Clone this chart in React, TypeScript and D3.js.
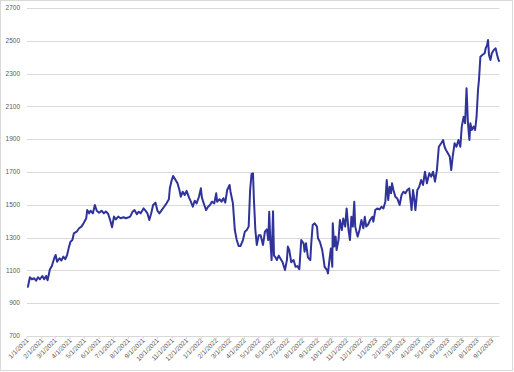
import React from "react";
import * as d3 from "d3";

// days since 1/1/2021 and the series value
const days: number[] = [
  0, 2, 6, 10, 15, 19, 23, 27, 32, 36, 40, 43, 45, 48, 52, 57, 60, 63, 68, 72, 76, 80, 84, 88, 91, 95, 98,
  104, 109, 114, 119, 124, 126, 130, 133, 138, 142, 146, 151, 156, 161, 165, 170, 174, 178, 182, 186, 191,
  196, 202, 207, 213, 216, 221, 225, 230, 234, 238, 244, 248, 252, 256, 260, 264, 269, 273, 277, 282, 287,
  292, 297, 299, 303, 306, 311, 315, 319, 322, 326, 330, 334, 339, 343, 347, 351, 355, 360, 364, 366, 371,
  375, 379, 383, 387, 392, 396, 398, 403, 407, 411, 415, 419, 424, 426, 431, 435, 439, 443, 447, 452, 456,
  460, 464, 467, 470, 473, 475, 478, 481, 485, 489, 494, 498, 502, 505, 507, 509, 512, 515, 517, 520, 523,
  527, 531, 535, 540, 544, 546, 549, 553, 558, 562, 566, 570, 574, 579, 581, 584, 588, 593, 595, 598, 602,
  607, 609, 613, 618, 620, 623, 628, 630, 633, 636, 639, 640, 643, 646, 648, 652, 655, 659, 662, 666, 669,
  673, 676, 679, 682, 685, 687, 692, 696, 700, 704, 707, 710, 714, 718, 723, 725, 729, 733, 738, 742, 746,
  750, 753, 756, 759, 762, 764, 767, 771, 775, 780, 784, 788, 792, 796, 800, 805, 808, 810, 813, 817, 821,
  825, 829, 833, 837, 842, 846, 850, 854, 858, 862, 867, 871, 874, 877, 881, 885, 888, 891, 895, 899, 903,
  907, 910, 914, 917, 920, 923, 926, 928, 931, 935, 938, 941, 944, 946, 949, 953, 958, 960, 963, 965, 967,
  970, 973, 977, 981, 984, 987, 989,
];
const values: number[] = [
  1001, 1000, 1058, 1046, 1052, 1037, 1058, 1046, 1066, 1046, 1066, 1040, 1066, 1107, 1127, 1174, 1194, 1153,
  1174, 1160, 1184, 1168, 1194, 1245, 1275, 1285, 1326, 1336, 1357, 1367, 1391, 1418, 1468, 1448, 1464, 1448,
  1499, 1464, 1452, 1464, 1448, 1460, 1444, 1407, 1363, 1428, 1411, 1428, 1418, 1424, 1418, 1424, 1428, 1458,
  1468, 1443, 1458, 1448, 1478, 1464, 1448, 1407, 1448, 1499, 1513, 1464, 1448, 1468, 1488, 1509, 1534, 1601,
  1651, 1676, 1651, 1631, 1590, 1549, 1580, 1560, 1585, 1545, 1519, 1488, 1525, 1509, 1549, 1601, 1545, 1499,
  1468, 1488, 1499, 1519, 1509, 1570, 1519, 1534, 1519, 1540, 1513, 1590, 1621, 1580, 1509, 1346, 1285, 1249,
  1249, 1285, 1336, 1346, 1367, 1590, 1688, 1692, 1529, 1346, 1255, 1315, 1315, 1255, 1336, 1350, 1285, 1458,
  1300, 1163, 1460, 1190, 1180, 1163, 1190, 1170, 1150, 1102, 1163, 1245, 1224, 1150, 1163, 1122, 1126, 1107,
  1285, 1265, 1214, 1265, 1180, 1163, 1265, 1377, 1387, 1367, 1296, 1275, 1224, 1184, 1122, 1102, 1082, 1163,
  1234, 1122, 1387, 1245, 1306, 1224, 1285, 1407, 1346, 1417, 1367, 1478, 1346, 1285, 1427, 1367, 1519, 1367,
  1306, 1346, 1407, 1357, 1427, 1367, 1380, 1407, 1427, 1397, 1468, 1478, 1472, 1488, 1478, 1519, 1651, 1529,
  1610, 1570, 1631, 1590, 1549, 1539, 1499, 1560, 1580, 1570, 1590, 1600, 1468, 1590, 1549, 1468, 1590, 1610,
  1651, 1621, 1702, 1631, 1692, 1672, 1702, 1641, 1712, 1854, 1875, 1895, 1854, 1834, 1814, 1793, 1712, 1793,
  1875, 1854, 1895, 1854, 1977, 2037, 1997, 2210, 1997, 1895, 1997, 1956, 1977, 1956, 2037, 2200, 2261, 2403,
  2413, 2424, 2454, 2474, 2505, 2413, 2383, 2424, 2444, 2454, 2413, 2383, 2373,
];
const yTicks: number[] = [700, 900, 1100, 1300, 1500, 1700, 1900, 2100, 2300, 2500, 2700];

const W = 514;
const H = 372;
const start = new Date(2021, 0, 1);
const end = new Date(2023, 8, 17);

export default function App() {
  const x = d3.scaleTime().domain([start, end]).range([27, 499.5]);
  const y = d3.scaleLinear().domain([700, 2700]).range([336, 8]);
  const data = days.map((d, i) => ({ date: d3.timeDay.offset(start, d), v: values[i] }));
  const line = d3
    .line<{ date: Date; v: number }>()
    .x((d) => x(d.date))
    .y((d) => y(d.v));
  const monthTicks = d3.timeMonth.range(start, new Date(2023, 8, 2));
  const fmt = (d: Date) => `${d.getMonth() + 1}/${d.getDate()}/${d.getFullYear()}`;
  const font = "'Liberation Sans', Arial, sans-serif";

  return (
    <svg
      width={W}
      height={H}
      style={{ position: "absolute", left: 0, top: 0, background: "#fff" }}
    >
      <rect x={0.5} y={0.5} width={512} height={370} fill="#fff" stroke="#d9d9d9" />
      {yTicks.map((t) => (
        <g key={t}>
          <line x1={27} x2={499.5} y1={Math.round(y(t)) + 0.5} y2={Math.round(y(t)) + 0.5} stroke="#d9d9d9" strokeWidth={1} />
          <text
            x={20}
            y={y(t)}
            dy="0.35em"
            textAnchor="end"
            fontSize={6.5}
            fill="#595959"
            fontFamily={font}
          >
            {t}
          </text>
        </g>
      ))}
      {monthTicks.map((m) => {
        const tx = x(m);
        return (
          <g key={m.getTime()}>
            <line x1={tx} x2={tx} y1={336} y2={339} stroke="#d9d9d9" />
            <text
              transform={`translate(${tx + 2},${341}) rotate(-45)`}
              textAnchor="end"
              fontSize={6.5}
              fill="#595959"
              fontFamily={font}
            >
              {fmt(m)}
            </text>
          </g>
        );
      })}
      <path
        d={line(data) || ""}
        fill="none"
        stroke="#30339a"
        strokeWidth={2}
        strokeLinejoin="round"
      />
    </svg>
  );
}
